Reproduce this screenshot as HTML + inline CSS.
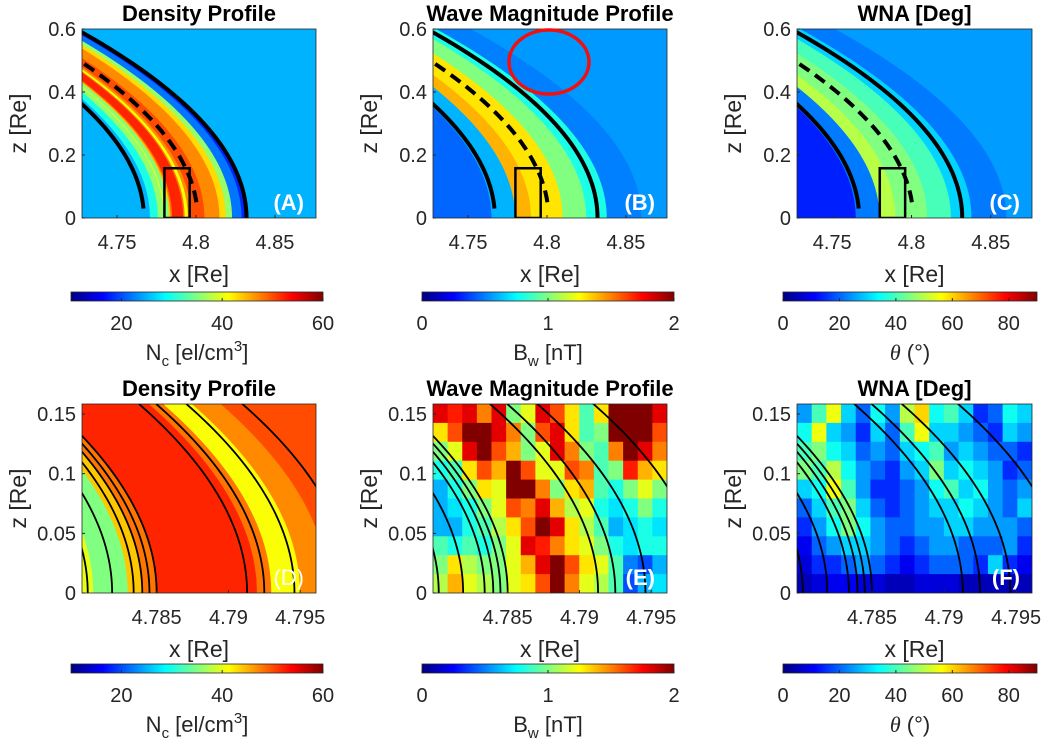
<!DOCTYPE html>
<html><head><meta charset="utf-8"><style>
body{margin:0;background:#fff}
svg{display:block;font-family:"Liberation Sans",Arial,sans-serif}
</style></head><body>
<svg id="fig" width="1045" height="748" viewBox="0 0 1045 748" xmlns="http://www.w3.org/2000/svg">
<defs id="defs"></defs>
<g id="root"></g>
</svg>
<script>
// ---- data ----
const densityEdges = [4.60,4.771,4.776,4.7798,4.7806,4.783,4.784,4.785,4.792,4.793,4.795,4.797,4.8055,4.815,4.819,4.823,4.829,4.833];
const densityValues = [25,30,36,40,35,44,48,52,48,41,47,50,47,43,36,22,18,25];
const waveEdges = [4.60,4.765,4.78,4.79,4.81,4.825,4.838,4.86];
const waveValues = [0.45,0.6,1.4,1.3,1.0,0.8,0.5,0.55];
const wnaEdges = [4.60,4.765,4.78,4.79,4.81,4.825,4.838,4.86];
const wnaValues = [14,22,50,45,40,30,22,25];
const waveGrid = [
[1.8,1.7,1.8,1.5,1.8,1.0,1.2,1.8,1.6,1.3,0.9,1.3,2,2,2,1.8],
[1.3,1.6,2,2,1.8,1.5,1.0,1.6,1.8,1.3,0.9,1.0,2,2,2,1.6],
[1.0,1.2,1.8,2,1.6,1.4,1.0,1.2,1.8,1.5,1.0,0.9,1.5,2,1.8,1.5],
[0.8,0.9,1.3,1.6,1.4,2,1.6,1.2,1.2,1.6,1.5,0.9,1.0,1.7,1.4,1.3],
[0.6,0.8,1.0,1.3,1.2,2,2,1.5,1.0,1.3,1.4,0.9,0.8,1.0,1.2,1.0],
[0.6,0.7,0.8,1.0,1.2,1.6,1.5,1.8,1.4,1.1,1.2,0.8,0.7,0.8,1.0,0.8],
[0.6,0.6,0.8,0.9,1.1,1.3,1.6,2,1.8,1.3,1.1,0.9,0.6,0.7,0.8,0.7],
[0.9,0.8,0.9,0.8,1.0,1.2,1.8,1.7,1.5,1.3,1.2,1.0,0.8,0.7,0.8,0.8],
[1.0,1.3,1.1,1.0,1.0,1.2,1.4,1.8,2,1.6,1.3,1.2,0.9,0.5,0.4,0.6],
[1.1,1.4,1.2,1.1,1.0,1.2,1.3,1.6,2,1.5,1.2,1.1,0.9,0.4,0.6,0.7]];
const wnaGrid = [
[25,40,55,30,20,35,25,50,60,35,40,30,15,20,35,30],
[35,55,30,25,15,30,20,40,55,30,30,25,20,15,30,25],
[40,45,35,30,20,25,20,30,35,40,25,30,25,20,20,15],
[45,40,50,35,25,20,15,25,30,45,30,35,30,25,15,20],
[30,35,55,40,25,15,15,20,25,35,40,30,35,25,20,25],
[20,30,40,45,30,20,15,20,25,30,30,35,30,25,20,30],
[15,25,35,45,35,25,20,20,25,25,30,30,25,25,25,20],
[10,20,25,30,30,25,20,15,20,25,25,20,20,20,25,15],
[8,15,15,20,25,20,15,10,15,20,20,20,15,30,15,10],
[5,8,10,10,8,8,5,5,8,8,8,5,5,5,5,5]];
const zoomContours = [4.7802,4.7819,4.7834,4.7840,4.7845,4.7850,4.7913,4.7925,4.7946,4.7985];
const topTicksX = [4.75,4.8,4.85];
const topTicksZ = [0,0.2,0.4,0.6];
const botTicksX = [4.785,4.79,4.795];
const botTicksZ = [0,0.05,0.1,0.15];
const densityCbTicks = [20,40,60];
const waveCbTicks = [0,1,2];
const wnaCbTicks = [0,20,40,60,80];

// ---- helpers ----
const NS='http://www.w3.org/2000/svg';
const root=document.getElementById('root');
const defs=document.getElementById('defs');
const K=0.30;
function mk(tag,attrs,parent){const e=document.createElementNS(NS,tag);for(const k in attrs)e.setAttribute(k,attrs[k]);(parent||root).appendChild(e);return e;}
function jet(t){t=Math.max(0,Math.min(1,t));const c=v=>Math.round(255*Math.max(0,Math.min(1,v)));
 return `rgb(${c(1.5-Math.abs(4*t-3))},${c(1.5-Math.abs(4*t-2))},${c(1.5-Math.abs(4*t-1))})`;}
function fmt(v){return String(v);}

const cols=[[82,316],[433,667],[797,1032]];
const rows=[{y0:29,y1:218,xmin:4.7278,xmax:4.876,zmax:0.6,xt:topTicksX,zt:topTicksZ},
            {y0:404,y1:593,xmin:4.7798,xmax:4.7961,zmax:0.1584,xt:botTicksX,zt:botTicksZ}];
let clipId=0;
function makeAxes(ci,ri){
 const [px0,px1]=cols[ci]; const r=rows[ri];
 const sx=v=>px0+(v-r.xmin)/(r.xmax-r.xmin)*(px1-px0);
 const sz=z=>r.y1-z/r.zmax*(r.y1-r.y0);
 const id='clip'+(clipId++);
 const cp=mk('clipPath',{id},defs); mk('rect',{x:px0,y:r.y0,width:px1-px0,height:r.y1-r.y0},cp);
 const g=mk('g',{'clip-path':`url(#${id})`});
 return {px0,px1,r,sx,sz,g};
}
function arcPts(ax,x0,zFrom,zTo,rev){const pts=[];const n=40;
 for(let i=0;i<=n;i++){const z=zFrom+(zTo-zFrom)*i/n;pts.push([ax.sx(x0-K*z*z),ax.sz(z)]);}
 if(rev)pts.reverse();return pts;}
function drawBands(ax,edges,values,cmin,cmax){
 for(let i=0;i<edges.length;i++){
  const a=edges[i], b=(i+1<edges.length)?edges[i+1]:5.2;
  const pts=arcPts(ax,a,0,ax.r.zmax*1.05,false).concat(arcPts(ax,b,0,ax.r.zmax*1.05,true));
  const col=jet((values[i]-cmin)/(cmax-cmin));
  const p=mk('polygon',{points:pts.map(q=>q.join(',')).join(' '),fill:col,stroke:col,'stroke-width':0.5},ax.g);
  
  
 }
}
function drawGrid(ax,grid,cmin,cmax){
 const nr=grid.length,nc=grid[0].length;
 const dx=(ax.r.xmax-ax.r.xmin)/nc, dz=ax.r.zmax/nr;
 grid.forEach((row,j)=>row.forEach((v,i)=>{
  const xa=ax.sx(ax.r.xmin+i*dx), xb=ax.sx(ax.r.xmin+(i+1)*dx);
  const za=ax.sz(ax.r.zmax-j*dz), zb=ax.sz(ax.r.zmax-(j+1)*dz);
  const c=mk('rect',{x:xa,y:za,width:xb-xa+0.5,height:zb-za+0.5,fill:jet((v-cmin)/(cmax-cmin))},ax.g);
  
  
 }));
}
function line(ax,x0,zFrom,dash,w){
 const pts=arcPts(ax,x0,zFrom,ax.r.zmax*1.05,false);
 const p=mk('polyline',{points:pts.map(q=>q.join(',')).join(' '),fill:'none',stroke:'#000','stroke-width':w,'stroke-dasharray':dash||'none'},ax.g);
 
 
}
function topLines(ax){line(ax,4.767,0.03,null,4);line(ax,4.801,0.05,'12,7',4);line(ax,4.832,0,null,4);
 const b=mk('rect',{x:ax.sx(4.78),y:ax.sz(0.158),width:ax.sx(4.796)-ax.sx(4.78),height:ax.sz(0)-ax.sz(0.158),fill:'none',stroke:'#000','stroke-width':2.5},ax.g);
 }
function botLines(ax){zoomContours.forEach(c=>line(ax,c,0,null,1.8));}
function frame(ax,title,letter,bold){
 const r=ax.r;
 const f=mk('rect',{x:ax.px0,y:r.y0,width:ax.px1-ax.px0,height:r.y1-r.y0,fill:'none',stroke:'#262626','stroke-width':0.8});
 
 r.xt.forEach(v=>{const x=ax.sx(v);
  mk('line',{x1:x,x2:x,y1:r.y1,y2:r.y1-3,stroke:'#262626'});
  const t=mk('text',{x:x,y:r.y1+31,'text-anchor':'middle','font-size':20,fill:'#262626'});t.textContent=fmt(v);
  });
 r.zt.forEach(v=>{const y=ax.sz(v);
  mk('line',{x1:ax.px0,x2:ax.px0+3,y1:y,y2:y,stroke:'#262626'});
  const t=mk('text',{x:ax.px0-6,y:y+7,'text-anchor':'end','font-size':20,fill:'#262626'});t.textContent=fmt(v);
  });
 const cx=(ax.px0+ax.px1)/2;
 const tt=mk('text',{x:cx,y:r.y0-8,'text-anchor':'middle','font-size':22,'font-weight':'bold',fill:'#000'});tt.textContent=title;
 
 const xl=mk('text',{x:cx,y:r.y1+64,'text-anchor':'middle','font-size':23,fill:'#262626'});xl.textContent='x [Re]';
 
 const ym=(r.y0+r.y1)/2, yx=ax.px0-56;
 const yl=mk('text',{x:yx,y:ym,'text-anchor':'middle','font-size':23,fill:'#262626',transform:`rotate(-90 ${yx} ${ym})`});yl.textContent='z [Re]';
 
 const lt=mk('text',{x:ax.px1-12,y:r.y1-8,'text-anchor':'end','font-size':22,'font-weight':bold?'bold':'normal',fill:'#fff'});lt.textContent=letter;
 
}
let gradId=0;
function colorbar(x0,x1,y,cmin,cmax,ticks,labelFn){
 const id='grad'+(gradId++);
 const lg=mk('linearGradient',{id,x1:0,x2:1,y1:0,y2:0},defs);
 for(let i=0;i<=16;i++)mk('stop',{offset:i/16,'stop-color':jet(i/16)},lg);
 const cb=mk('rect',{x:x0,y:y,width:x1-x0,height:9,fill:`url(#${id})`,stroke:'#262626','stroke-width':0.8});
 
 ticks.forEach(v=>{const x=x0+(v-cmin)/(cmax-cmin)*(x1-x0);
  mk('line',{x1:x,x2:x,y1:y+9,y2:y+6,stroke:'#262626'});
  const t=mk('text',{x:x,y:y+38,'text-anchor':'middle','font-size':20,fill:'#262626'});t.textContent=fmt(v);
  });
 labelFn((x0+x1)/2,y+68);
}
function lblN(cx,y){const t=mk('text',{x:cx,y:y,'text-anchor':'middle','font-size':22,fill:'#262626'});
 t.innerHTML='N<tspan font-size="15" dy="6">c</tspan><tspan dy="-6"> [el/cm</tspan><tspan font-size="15" dy="-9">3</tspan><tspan dy="9">]</tspan>';
 }
function lblB(cx,y){const t=mk('text',{x:cx,y:y,'text-anchor':'middle','font-size':22,fill:'#262626'});
 t.innerHTML='B<tspan font-size="15" dy="6">w</tspan><tspan dy="-6"> [nT]</tspan>';
 }
function lblT(cx,y){const t=mk('text',{x:cx,y:y,'text-anchor':'middle','font-size':22,fill:'#262626'});
 t.innerHTML='<tspan font-family="Liberation Serif" font-style="italic">θ</tspan> (°)';
 }

// ---- panels ----
let ax;
ax=makeAxes(0,0); drawBands(ax,densityEdges,densityValues,10,60); topLines(ax); frame(ax,'Density Profile','(A)',true);
ax=makeAxes(1,0); drawBands(ax,waveEdges,waveValues,0,2); topLines(ax); frame(ax,'Wave Magnitude Profile','(B)',true);
const circ=mk('ellipse',{cx:549,cy:62,rx:40,ry:32,fill:'none',stroke:'#f01010','stroke-width':3.5});

ax=makeAxes(2,0); drawBands(ax,wnaEdges,wnaValues,0,90); topLines(ax); frame(ax,'WNA [Deg]','(C)',true);
ax=makeAxes(0,1); drawBands(ax,densityEdges,densityValues,10,60); botLines(ax); frame(ax,'Density Profile','(D)',false);
ax=makeAxes(1,1); drawGrid(ax,waveGrid,0,2); botLines(ax); frame(ax,'Wave Magnitude Profile','(E)',true);
ax=makeAxes(2,1); drawGrid(ax,wnaGrid,0,90); botLines(ax); frame(ax,'WNA [Deg]','(F)',true);

colorbar(71,323,292,10,60,densityCbTicks,lblN);
colorbar(422,674,292,0,2,waveCbTicks,lblB);
colorbar(783,1037,292,0,90,wnaCbTicks,lblT);
colorbar(71,323,664,10,60,densityCbTicks,lblN);
colorbar(422,674,664,0,2,waveCbTicks,lblB);
colorbar(783,1037,664,0,90,wnaCbTicks,lblT);
</script>
</body></html>
